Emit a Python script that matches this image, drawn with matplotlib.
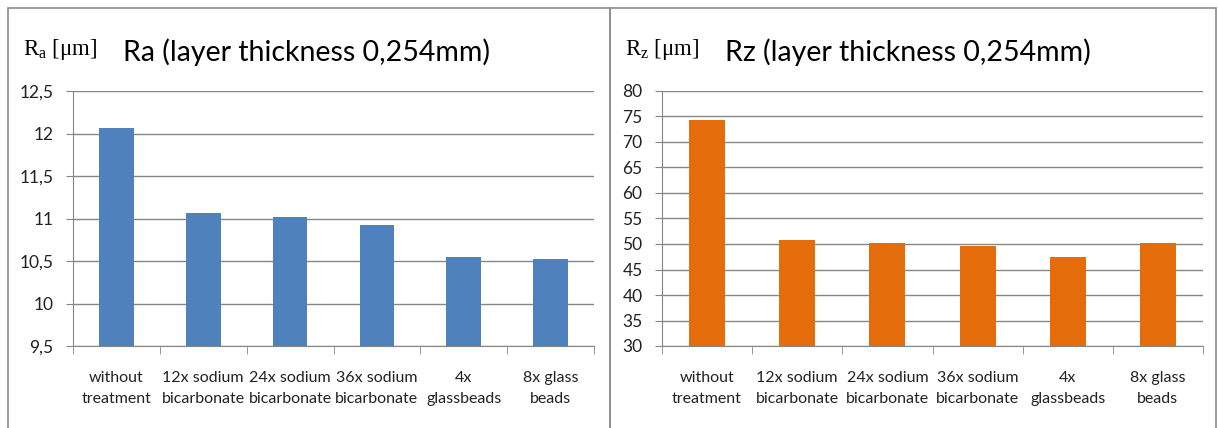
import matplotlib.pyplot as plt
import numpy as np
from matplotlib.patches import Rectangle

categories = ["without\ntreatment", "12x sodium\nbicarbonate", "24x sodium\nbicarbonate",
              "36x sodium\nbicarbonate", "4x\nglassbeads", "8x glass\nbeads"]
ra_values = [12.07, 11.06, 11.02, 10.92, 10.55, 10.52]
rz_values = [74.3, 50.8, 50.2, 49.6, 47.5, 50.2]
ra_ticks = [9.5, 10, 10.5, 11, 11.5, 12, 12.5]
ra_ticklabels = ["9,5", "10", "10,5", "11", "11,5", "12", "12,5"]
rz_ticks = [30, 35, 40, 45, 50, 55, 60, 65, 70, 75, 80]

W, H = 1218, 428
fig = plt.figure(figsize=(W / 100, H / 100), dpi=100)
font = ["Lato", "DejaVu Sans"]
grey = "#868686"


def panel(px0, px1, ax_l, ax_r, values, ticks, ticklabels, color, unit_sub, title):
    # panel frame
    fig.add_artist(Rectangle((px0 / W, -0.1), (px1 - px0) / W, 1.1 - 8 / H,
                             transform=fig.transFigure, fill=False,
                             edgecolor="#8c8c8c", lw=1.2))
    ax = fig.add_axes([ax_l / W, 1 - 346 / H, (ax_r - ax_l) / W, (346 - 91) / H])
    x = np.arange(len(values))
    ax.bar(x, [v - ticks[0] for v in values], bottom=ticks[0], width=0.4,
           color=color, zorder=3)
    ax.set_xlim(-0.5, len(values) - 0.5)
    ax.set_ylim(ticks[0], ticks[-1])
    ax.set_yticks(ticks)
    ax.set_yticklabels(ticklabels, fontfamily=font, fontsize=12.5, color="#222222")
    ax.yaxis.grid(True, color=grey, lw=1.0, zorder=0)
    ax.set_xticks(x)
    ax.set_xticklabels(categories, fontfamily=font, fontsize=11.5, color="#222222",
                       linespacing=1.6)
    ax.set_xticks(np.arange(len(values) + 1) - 0.5, minor=True)
    ax.tick_params(axis="x", which="major", length=0, pad=18)
    ax.tick_params(axis="x", which="minor", length=6, color=grey, direction="out")
    ax.tick_params(axis="y", length=5, color=grey, pad=9)
    for s in ["top", "right"]:
        ax.spines[s].set_visible(False)
    for s in ["left", "bottom"]:
        ax.spines[s].set_color(grey)
    fig.text((px0 + 15) / W, 1 - 50 / H, "R$_{\\mathregular{%s}}$ [μm]" % unit_sub,
             fontfamily="Liberation Serif", fontsize=16.5, va="center", ha="left")
    fig.text((px0 + 115) / W, 1 - 52 / H, title, fontfamily=font, fontsize=20.5,
             va="center", ha="left")
    return ax


panel(8, 610, 73, 594, ra_values, ra_ticks, ra_ticklabels, "#4F81BD", "a",
      "Ra (layer thickness 0,254mm)")
panel(610, 1216, 662, 1203, rz_values, rz_ticks, [str(t) for t in rz_ticks], "#E46C0A", "z",
      "Rz (layer thickness 0,254mm)")

fig.savefig("out.png", dpi=100)
